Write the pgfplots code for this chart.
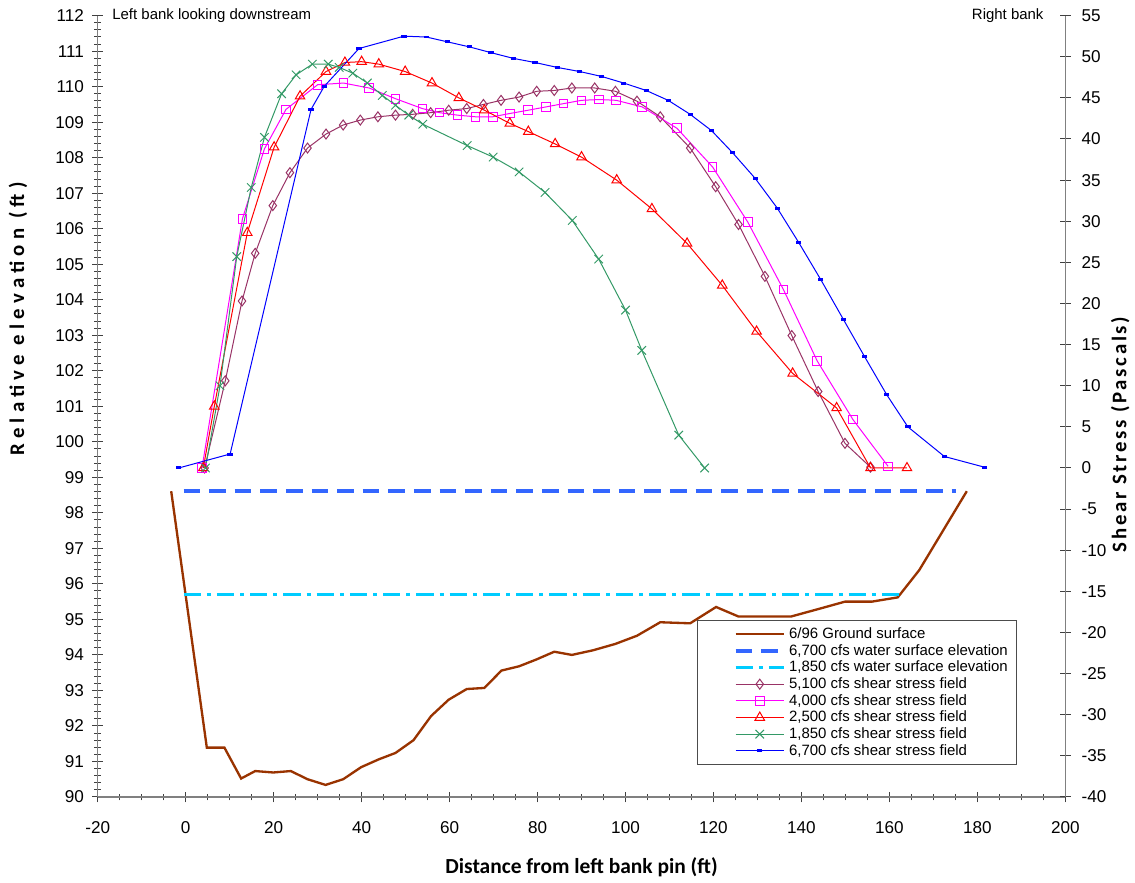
\documentclass[border=0pt]{standalone}
\usepackage{pgfplots}
\pgfplotsset{compat=1.18}
\usepackage{fontspec}
\setmainfont{Liberation Sans}
\newfontfamily\labfont{Carlito}
\newfontfamily\labfontA{Carlito}[LetterSpace=25]
\newfontfamily\labfontB{Carlito}[LetterSpace=13]

\definecolor{plum}{HTML}{993366}
\definecolor{sgreen}{HTML}{339966}
\definecolor{soil}{HTML}{993300}
\definecolor{wblue}{HTML}{3366FF}
\definecolor{wcyan}{HTML}{00CCFF}
\definecolor{mag}{RGB}{255,0,255}
\definecolor{pureblue}{RGB}{0,0,255}
\definecolor{purered}{RGB}{255,0,0}

\pgfplotsset{
  common/.style={
    width=582pt, height=470pt, scale only axis,
    xmin=-20, xmax=200,
    axis line style={draw=black!50, line width=0.8pt},
    tick style={black!75, line width=0.6pt},
    tick align=center,
    major tick length=6.5pt, minor tick length=4pt,
    tick label style={font=\fontsize{10.3}{12}\selectfont},
    /pgf/number format/assume math mode=true,
  },
}

\begin{document}
\begin{tikzpicture}
\begin{axis}[common, name=main, clip=false,
    ymin=90, ymax=112,
    axis x line*=bottom, axis y line*=left,
    xtick distance=20, minor x tick num=3,
    ytick distance=1, minor y tick num=4,
    x tick label style={yshift=-8pt},
    y tick label style={xshift=-1.5pt},
    xlabel={Distance from left bank pin (ft)},
    ylabel={Relative elevation (ft)},
    xlabel style={font=\labfont\bfseries\fontsize{12.9}{14}\selectfont,
      at={(axis description cs:0.5,-0.090)}, anchor=center},
    ylabel style={font=\labfontA\bfseries\fontsize{12.5}{14}\selectfont,
      at={(axis description cs:-0.0825,0.612)}, anchor=center},
  ]
  % 6/96 ground surface
  \addplot[soil, line width=1.4pt] coordinates {
    (-3.3,98.61) (4.8,91.39) (8.8,91.39) (12.6,90.52) (15.8,90.73)
    (19.9,90.69) (23.9,90.73) (27.7,90.50) (31.8,90.34) (35.8,90.50)
    (39.9,90.84) (43.9,91.06) (47.7,91.24) (51.8,91.60) (55.8,92.28)
    (59.8,92.74) (63.9,93.04) (67.9,93.07) (71.8,93.56) (75.8,93.68)
    (79.7,93.87) (83.8,94.09) (87.8,94.00) (92.6,94.13) (97.7,94.31)
    (102.6,94.54) (107.9,94.92) (114.7,94.89) (120.6,95.35) (125.7,95.08)
    (131.7,95.08) (137.6,95.08) (143.8,95.29) (149.9,95.50) (156.0,95.50)
    (161.9,95.62) (166.8,96.39) (177.6,98.61)};
  % water surfaces
  \addplot[wblue, line width=2.3pt, dash pattern=on 10pt off 5.4pt]
    coordinates {(-0.5,98.61) (175.2,98.61)};
  \addplot[wcyan, line width=2.3pt, dash pattern=on 10.5pt off 3.5pt on 2.5pt off 3.5pt]
    coordinates {(-0.5,95.70) (162.3,95.70)};
  \node[anchor=west, font=\fontsize{9}{11}\selectfont] at (rel axis cs:0.009,1) {Left bank looking downstream};
  \node[anchor=east, font=\fontsize{9}{11}\selectfont] at (rel axis cs:0.9835,1) {Right bank};
\end{axis}

\begin{axis}[common,
    ymin=-40, ymax=55,
    axis x line=none, axis y line*=right,
    ytick distance=5,
    y tick label style={xshift=3pt},
    ylabel={Shear Stress (Pascals)},
    ylabel style={font=\labfontB\bfseries\fontsize{12.5}{14}\selectfont,
      at={(axis description cs:1.0567,0.464)}, anchor=center},
    legend style={at={(rel axis cs:0.619,0.226)}, anchor=north west,
      draw=black!70, line width=0.6pt, fill=white,
      font=\fontsize{9}{10.6}\selectfont, row sep=-2.0pt,
      inner xsep=3pt, inner ysep=2pt},
    legend cell align=left,
    legend image code/.code={
      \fill[white] (-19pt,-0.5pt) rectangle (-18.5pt,0.5pt);
      \draw[mark repeat=2, mark phase=2, #1] plot coordinates {(0pt,0pt) (14.5pt,0pt) (29pt,0pt)};},
  ]
  \addlegendimage{soil, line width=1.4pt}
  \addlegendentry{6/96 Ground surface}
  \addlegendimage{wblue, line width=2.3pt, dash pattern=on 10pt off 5.4pt}
  \addlegendentry{6,700 cfs water surface elevation}
  \addlegendimage{wcyan, line width=2.3pt, dash pattern=on 10.5pt off 3.5pt on 2.5pt off 3.5pt}
  \addlegendentry{1,850 cfs water surface elevation}

  % 5,100 cfs
  \addplot[plum, line width=0.6pt, mark=diamond, mark size=3pt, mark options={solid, line width=0.6pt}] coordinates {
    (4.3,0) (9.0,10.6) (12.8,20.3) (15.8,26.1) (19.8,31.9) (23.7,35.9)
    (27.7,38.9) (31.9,40.6) (35.8,41.7) (39.7,42.3) (43.7,42.7) (47.7,42.9)
    (51.6,43.0) (55.7,43.2) (59.8,43.5) (63.9,43.7) (67.7,44.2) (71.7,44.7)
    (75.8,45.1) (79.8,45.8) (83.8,45.9) (87.8,46.2) (93.0,46.2) (97.7,45.8)
    (102.6,44.6) (107.9,42.7) (114.7,38.9) (120.5,34.2) (125.7,29.6)
    (131.7,23.3) (137.8,16.1) (143.8,9.3) (149.9,3.0) (155.7,0.1)};
  \addlegendentry{5,100 cfs shear stress field}
  % 4,000 cfs
  \addplot[mag, line width=0.6pt, mark=square, mark size=2.6pt, mark options={solid, line width=0.6pt}] coordinates {
    (3.7,0) (12.9,30.3) (17.9,38.8) (22.8,43.6) (30.0,46.6) (35.9,46.8)
    (41.7,46.2) (47.7,44.9) (53.8,43.7) (57.7,43.2) (61.8,42.9) (65.9,42.7)
    (69.8,42.7) (73.7,43.1) (77.9,43.5) (81.9,43.9) (85.9,44.3) (90.0,44.7)
    (94.0,44.8) (97.9,44.7) (103.8,43.9) (111.7,41.3) (119.8,36.6)
    (127.8,29.9) (135.9,21.7) (143.6,13.0) (151.7,5.9) (159.7,0.2)};
  \addlegendentry{4,000 cfs shear stress field}
  % 2,500 cfs
  \addplot[purered, line width=0.6pt, mark=triangle, mark size=3.3pt, mark options={solid, line width=0.6pt}] coordinates {
    (4.0,0) (6.5,7.5) (14.0,28.6) (20.1,39.0) (26.0,45.2) (31.9,48.2)
    (36.2,49.3) (40.0,49.4) (43.9,49.1) (49.9,48.2) (56.0,46.8) (62.1,45.0)
    (67.9,43.5) (73.7,41.9) (77.9,40.9) (84.0,39.4) (90.0,37.8) (98.0,35.0)
    (106.0,31.5) (114.0,27.3) (122.0,22.2) (129.8,16.6) (138.0,11.5)
    (148.0,7.3) (155.7,0) (164.0,0)};
  \addlegendentry{2,500 cfs shear stress field}
  % 1,850 cfs
  \addplot[sgreen, line width=0.6pt, mark=x, mark size=3.6pt, mark options={solid, line width=0.6pt}] coordinates {
    (4.5,0) (7.8,10.0) (11.6,25.7) (14.9,34.1) (17.9,40.2) (21.8,45.5)
    (25.1,47.8) (28.8,49.1) (32.4,49.1) (34.9,48.7) (38.0,48.0) (41.3,46.8)
    (44.7,45.3) (47.7,44.1) (50.7,42.9) (53.9,41.8) (64.0,39.2) (69.9,37.8)
    (75.8,36.0) (81.7,33.5) (87.9,30.1) (93.9,25.4) (100.0,19.2)
    (103.7,14.3) (112.1,4.0) (118.0,0)};
  \addlegendentry{1,850 cfs shear stress field}
  % 6,700 cfs
  \addplot[pureblue, line width=0.6pt, mark=-, mark size=1.6pt, mark options={solid, line width=1.8pt}] coordinates {
    (-1.6,0) (10.1,1.7) (28.5,43.6) (31.5,46.4) (39.4,51.0) (49.6,52.5)
    (54.7,52.4) (59.6,51.8) (64.5,51.2) (69.4,50.5) (74.5,49.8) (79.4,49.3)
    (84.5,48.7) (89.6,48.2) (94.6,47.6) (99.6,46.8) (104.7,45.9) (109.7,44.7)
    (114.7,43.0) (119.6,41.0) (124.4,38.3) (129.5,35.2) (134.5,31.6)
    (139.4,27.4) (144.4,22.9) (149.5,18.1) (154.4,13.5) (159.4,8.9)
    (164.2,5.0) (172.5,1.4) (181.6,0.1)};
  \addlegendentry{6,700 cfs shear stress field}
\end{axis}
\path (main.south west) ++(-58.8pt,-49.8pt) coordinate (bbA);
\path (main.north east) ++(40.2pt,9.4pt) coordinate (bbB);
\path (bbA) rectangle (bbB);
\end{tikzpicture}
\end{document}
